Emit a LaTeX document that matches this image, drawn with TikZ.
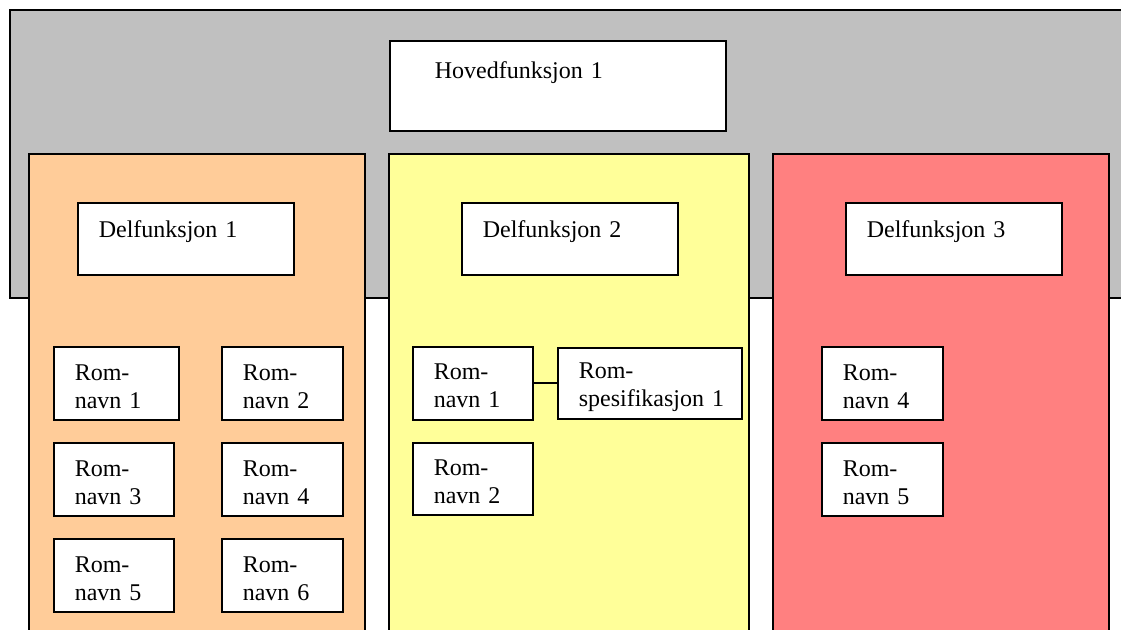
\documentclass[tikz,border=0pt]{standalone}
\usepackage{fontspec}
\setmainfont{Liberation Serif}
\usepackage{tikz}

\definecolor{graa}{HTML}{C0C0C0}
\definecolor{oransje}{HTML}{FFCC99}
\definecolor{gul}{HTML}{FFFF99}
\definecolor{rod}{HTML}{FF8080}

\tikzset{
  kolonne/.style={draw,line width=0.7pt},
  funkboks/.style={draw,fill=white,line width=0.8pt,anchor=north west,
    inner xsep=10.5pt,inner ysep=0pt,align=left},
  romboks/.style={draw,fill=white,line width=0.8pt,anchor=north west,
    inner xsep=10.5pt,inner ysep=0pt,align=left,text height=17pt,text depth=19.5pt}
}

\begin{document}
\begin{tikzpicture}[x=1pt,y=-1pt,font=\fontsize{12}{14}\selectfont]

\begin{scope}
\clip (0,0) rectangle (560.5,315);

\filldraw[kolonne,fill=graa] (5,5) rectangle (570,149);

\node[funkboks,inner xsep=22.5pt,text width=123pt,text height=19pt,text depth=26pt] (hoved) at (194.5,20) {Hovedfunksjon 1};

\filldraw[kolonne,fill=oransje] (14.5,77) rectangle (182.5,320);
\filldraw[kolonne,fill=gul] (194.5,77) rectangle (374.5,320);
\filldraw[kolonne,fill=rod] (386.5,77) rectangle (554.5,320);

\foreach \i/\x in {1/38.5,2/230.5,3/422.5}{% one box per column
    \node[funkboks,text width=87pt,text height=17.5pt,text depth=18.5pt] (del\i) at (\x,101) {Delfunksjon \i};}

% romnavn i forste kolonne
\foreach \i/\x/\y/\w in {1/26.5/173/41.5,2/110.5/173/39.5,3/26.5/221/39,
    4/110.5/221/39.5,5/26.5/269/39,6/110.5/269/39.5}{%
    \node[romboks,text width=\w pt] (o\i) at (\x,\y) {Rom-\\navn \i};}

% romnavn i andre kolonne
\node[romboks,text width=39pt,text height=16.5pt,text depth=20pt] (g1) at (206,173) {Rom-\\navn 1};
\node[romboks,text width=71pt,text height=15.5pt,text depth=20pt] (gspes) at (278.5,173.5) {Rom-\\spesifikasjon~1};
\node[romboks,text width=39pt,text height=16.5pt,text depth=19.5pt] (g2) at (206,221) {Rom-\\navn 2};
\draw[line width=0.8pt] (g1.east) -- (gspes.west);

% romnavn i tredje kolonne
\node[romboks,text width=39.5pt] (r4) at (410.5,173) {Rom-\\navn 4};
\node[romboks,text width=39.5pt] (r5) at (410.5,221) {Rom-\\navn 5};

\end{scope}
\end{tikzpicture}
\end{document}
